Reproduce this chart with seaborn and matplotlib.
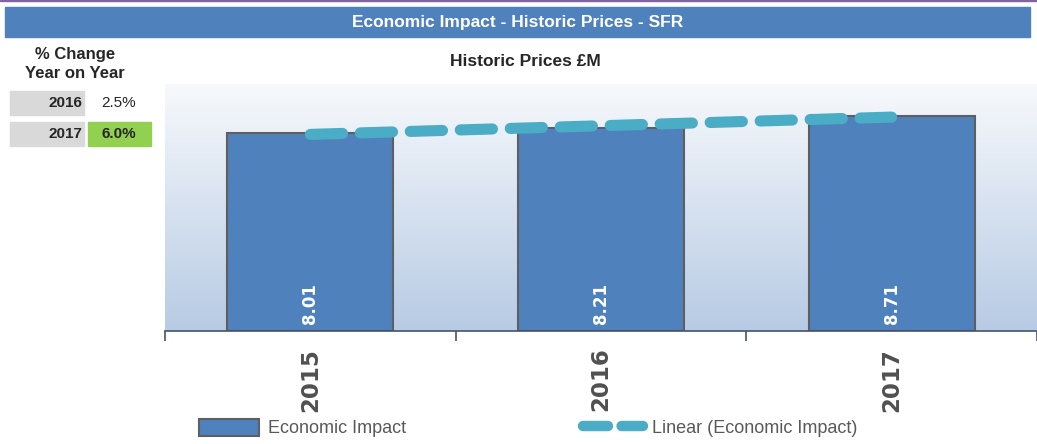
import numpy as np
import pandas as pd
import matplotlib
matplotlib.use('Agg')
import matplotlib.pyplot as plt
import seaborn as sns
from matplotlib.patches import Rectangle, Patch
from matplotlib.lines import Line2D
from matplotlib.colors import LinearSegmentedColormap

# Data
years = ['2015', '2016', '2017']
impact = [8.01, 8.21, 8.71]
change_years = ['2016', '2017']
change_pct = ['2.5%', '6.0%']

sns.set_theme(style='white')
plt.rcParams['font.family'] = ['Liberation Sans Narrow', 'Liberation Sans', 'DejaVu Sans']

df = pd.DataFrame({'year': years, 'impact': impact})

fig = plt.figure(figsize=(10.37, 4.44), dpi=100)
W, H = 1037, 444

def fx(px):
    return px / W

def fy(py):
    return 1 - py / H

# Header bar
fig.patches.append(Rectangle((fx(5), fy(37)), fx(1025), 30 / H, transform=fig.transFigure,
                             color='#4F81BD', zorder=0))
fig.patches.append(Rectangle((0, fy(1.5)), 1, 1.5 / H, transform=fig.transFigure,
                             color='#8064A2', zorder=0))
fig.text(fx(518), fy(22), 'Economic Impact - Historic Prices - SFR', color='white',
         fontsize=12.5, fontweight='bold', ha='center', va='center')

# Left table
fig.text(fx(75), fy(64), '% Change\nYear on Year', fontsize=12, fontweight='bold',
         ha='center', va='center', linespacing=1.3)
row_tops = [91, 122]
for i, (yr, pct) in enumerate(zip(change_years, change_pct)):
    top = row_tops[i]
    fig.patches.append(Rectangle((fx(10), fy(top + 24)), fx(74), 24 / H,
                                 transform=fig.transFigure, color='#D9D9D9', zorder=0))
    fig.text(fx(82), fy(top + 12), yr, fontsize=11, fontweight='bold', ha='right', va='center')
    if i == 1:
        fig.patches.append(Rectangle((fx(88), fy(top + 24)), fx(63), 24 / H,
                                     transform=fig.transFigure, color='#92D050', zorder=0))
        fig.text(fx(119), fy(top + 12), pct, fontsize=11, fontweight='bold', ha='center', va='center')
    else:
        fig.text(fx(119), fy(top + 12), pct, fontsize=11, ha='center', va='center')

fig.text(fx(525), fy(62), 'Historic Prices £M', fontsize=12.5, fontweight='bold',
         ha='center', va='center')

# Chart axes
ax = fig.add_axes([fx(165), fy(331), fx(872), 247 / H])
grad = LinearSegmentedColormap.from_list('bg', ['#F7F9FC', '#B7CBE4'])
ax.imshow(np.linspace(0, 1, 256).reshape(-1, 1), cmap=grad, aspect='auto',
          extent=[-0.5, 2.5, 0, 10], zorder=0)

sns.barplot(data=df, x='year', y='impact', color='#4F81BD', saturation=1, width=0.57,
            edgecolor='#5F5F5F', linewidth=1.5, ax=ax, zorder=2)

# Linear trendline
xs = np.arange(len(impact))
slope, intercept = np.polyfit(xs, impact, 1)
ax.plot(xs, slope * xs + intercept, color='#4BACC6', linewidth=8,
        dashes=(2.9, 1.6), dash_capstyle='round', zorder=3)

for i, v in enumerate(impact):
    ax.text(i, 1.1, f'{v:.2f}', rotation=90, color='white', fontsize=12,
            fontweight='bold', ha='center', va='center', family='DejaVu Sans', zorder=4)

ax.set_xlim(-0.5, 2.5)
ax.set_ylim(0, 10)
ax.set_xlabel('')
ax.set_ylabel('')
ax.set_yticks([])
for s in ['left', 'top', 'right']:
    ax.spines[s].set_visible(False)
ax.spines['bottom'].set_color('#44546A')
ax.spines['bottom'].set_linewidth(1.2)
ax.set_xticks(xs)
ax.set_xticklabels(years, rotation=90, fontsize=16.5, fontweight='bold',
                   color='#505050', family='DejaVu Sans')
ax.tick_params(axis='x', which='major', length=0, pad=12)
ax.set_xticks([-0.5, 0.5, 1.5, 2.5], minor=True)
ax.tick_params(axis='x', which='minor', length=7, width=1.2, color='#44546A', bottom=True)

# Legend
handles = [Patch(facecolor='#4F81BD', edgecolor='#5F5F5F', linewidth=1.5),
           Line2D([0], [0], color='#4BACC6', linewidth=7.5, dashes=(2.4, 1.3),
                  dash_capstyle='round')]
leg = fig.legend(handles, ['Economic Impact', 'Linear (Economic Impact)'], ncol=2,
                 loc='center left', bbox_to_anchor=(fx(183), fy(428)), frameon=False,
                 fontsize=13, handlelength=3.3, handleheight=1.1, handletextpad=0.5,
                 columnspacing=9.8)
for t in leg.get_texts():
    t.set_color('#595959')

fig.savefig('out.png', dpi=100)
